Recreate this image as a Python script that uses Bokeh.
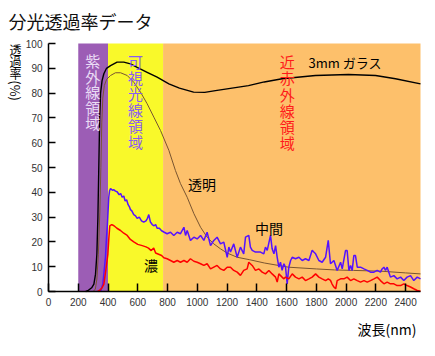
from bokeh.plotting import figure
from bokeh.models import Range1d, FixedTicker, Label
from bokeh.embed import file_html
from bokeh.resources import INLINE

JP = "Noto Sans CJK JP"

# ---- spectral bands (nm) ----
band_left = [200, 400, 770]
band_right = [400, 770, 2500]
band_colors = ["#9C5DB5", "#F9F92A", "#FDC06B"]
band_names = ["紫外線領域", "可視光線領域", "近赤外線領域"]
band_label_colors = ["#EADCF5", "#8A5CF2", "#FF1A1A"]

# ---- 3mm glass (black) ----
glass_nm = [250, 264, 290, 305, 316, 325, 332, 338, 344, 350, 360, 372, 390, 417, 461, 506,
            551, 596, 663, 730, 809, 880, 975, 1050, 1122, 1200, 1344, 1450, 1570, 1794,
            2016, 2198, 2332, 2500]
glass_pct = [0, 0.3, 1.5, 3, 7, 15, 30, 50, 70, 80, 85, 87.8, 90, 91.1, 92.5, 92.5,
             91.8, 90.4, 88.4, 86.4, 83.7, 82, 80.4, 80.3, 81, 81.7, 83, 84.5, 85.8, 87.1,
             87.5, 87.1, 85.8, 83.7]

# ---- clear (brown) ----
clear_nm = [300, 315, 325, 335, 345, 352, 358, 365, 375, 390, 417, 450, 484, 529, 573, 618,
            663, 708, 753, 809, 853, 887, 932, 977, 1022, 1066, 1111, 1156, 1201, 1268,
            1353, 1450, 1613, 1800, 1922, 2050, 2231, 2400, 2500]
clear_pct = [0, 1, 5, 15, 32, 50, 68, 78, 83, 85.5, 87.1, 88.2, 88.2, 87.1, 84.4, 80.4,
             75.7, 70.3, 64.9, 56.9, 48.8, 43.5, 38, 31.4, 25.9, 21.9, 19.2, 17.2, 15.5, 13.8,
             12.8, 11.5, 9.8, 9.1, 8.7, 8.5, 8.2, 7.5, 7.1]

# ---- medium tint (blue) ----
mid_nm = [350, 365, 372, 383, 390, 396, 405, 410, 417, 430, 440, 450, 461, 475, 485, 495,
          506, 515, 525, 535, 545, 551, 560, 573, 585, 596, 610, 625, 640, 655, 665, 674,
          685, 697, 710, 720, 730, 745, 760, 775, 797, 820, 842, 865, 887, 910, 921, 932,
          954, 977, 999, 1022, 1044, 1066, 1089, 1111, 1133, 1156, 1178, 1201, 1212, 1223,
          1245, 1268, 1290, 1312, 1324, 1346, 1357, 1369, 1391, 1425, 1447, 1458, 1470,
          1492, 1503, 1515, 1526, 1537, 1548, 1559, 1570, 1582, 1593, 1604, 1615, 1627,
          1638, 1660, 1683, 1705, 1727, 1750, 1772, 1783, 1795, 1817, 1839, 1862, 1880,
          1895, 1918, 1940, 1963, 1974, 1996, 2007, 2019, 2030, 2041, 2052, 2063, 2075,
          2097, 2120, 2142, 2164, 2187, 2209, 2231, 2242, 2254, 2265, 2276, 2287, 2298,
          2321, 2343, 2366, 2388, 2410, 2433, 2455, 2478, 2500]
mid_pct = [0, 3, 7, 14, 22, 27, 38, 40.5, 41.5, 40.8, 41, 40.5, 40.2, 39, 39.5, 38,
           38.5, 36.5, 37, 35, 34, 33, 32.5, 31, 30.5, 29.5, 30, 28.5, 28, 28.5, 29.5, 31,
           28, 27, 26.5, 27, 25.5, 25.5, 24.5, 24, 23.3, 23.9, 22.6, 23.9, 23.3, 25.9, 22.6, 24.6,
           20.6, 21.9, 21.2, 22.6, 20.6, 23.9, 18.5, 20.6, 21.9, 19.2, 19.9, 13.8, 17.9, 15.9,
           19.2, 13.8, 17.9, 15.2, 21.9, 22.6, 17.9, 16.6, 15.9, 15.9, 15.2, 17.9, 16.6,
           22.6, 17.2, 15.2, 18.5, 13.8, 9.8, 11.8, 8.5, 11.2, 9.8, 3.1, 9.8, 12.5,
           13.8, 13.2, 13.8, 12.5, 13.2, 12.5, 16.6, 15.9, 15.2, 12.5, 11.8, 13.8, 20.6,
           11.2, 12.5, 8.5, 11.8, 9.1, 16.5, 16.5, 8.5, 10.5, 8.5, 14.5, 14.5, 9.8,
           9.8, 9.1, 8.5, 7.8, 7.8, 8.5, 7.8, 9.1, 9.8, 8.5, 9.8, 7.8, 5.8,
           6.4, 5.1, 5.8, 4.4, 5.8, 6.4, 4.4, 5.8, 5.1]

# ---- dark tint (red) ----
dark_nm = [330, 345, 360, 372, 385, 399, 405, 412, 425, 440, 460, 484, 506, 529, 550, 573,
           600, 630, 655, 672, 690, 707, 720, 740, 760, 775, 797, 820, 842, 865, 887, 910,
           932, 954, 977, 999, 1022, 1044, 1066, 1089, 1111, 1133, 1156, 1178, 1201, 1223,
           1245, 1268, 1290, 1312, 1335, 1346, 1369, 1391, 1414, 1436, 1458, 1481, 1503,
           1526, 1537, 1548, 1570, 1582, 1593, 1615, 1638, 1660, 1683, 1705, 1727, 1750,
           1772, 1795, 1817, 1839, 1862, 1880, 1895, 1905, 1918, 1930, 1940, 1963, 1985,
           2007, 2030, 2052, 2075, 2097, 2120, 2142, 2164, 2187, 2209, 2231, 2254, 2276,
           2298, 2321, 2343, 2366, 2388, 2410, 2433, 2455, 2478, 2500]
dark_pct = [0, 0.5, 1.5, 3, 8.5, 15, 21, 26.5, 27, 26.5, 25.5, 24.6, 23.5, 22.6, 21, 20,
            19, 18.5, 18, 17.5, 16.5, 17.5, 15.5, 15, 14.5, 13.6, 13.2, 12.5, 11.8, 12.5, 11.8, 12.5,
            11.8, 13.2, 12.2, 11.8, 11.2, 10.5, 11.2, 9.1, 9.8, 10.5, 9.1, 8.5, 9.8, 9.8,
            8.5, 7.8, 6.5, 8.5, 9.1, 11.8, 10.5, 8.5, 9.1, 7.8, 7.1, 8.5, 7.1,
            5.8, 3.8, 7.1, 5.8, 5.1, 5.8, 5.1, 7.1, 5.8, 5.1, 5.8, 4.4, 5.1,
            5.8, 7.1, 5.8, 5.1, 4.4, 5.1, 4.5, 3.1, 1.8, 1.1, 4.4, 5.1, 5.1,
            5.8, 4.4, 5.1, 4.4, 3.8, 4.4, 3.8, 4.4, 5.1, 5.8, 4.4, 3.1, 3.8,
            3.1, 3.1, 2.4, 2.4, 3.1, 2.4, 1.8, 1.1, 0.4, 0.1]

x_ticks = list(range(0, 2401, 200))
y_ticks = list(range(0, 101, 10))

# The frame covers the whole canvas; the axes are pinned at x=0 / y=0.
NM_PER_PX = 1 / 0.1488
PCT_PER_PX = 1 / 2.48
p = figure(width=435, height=356, output_backend="svg", toolbar_location=None,
           x_range=Range1d(-48 * NM_PER_PX, 387 * NM_PER_PX),
           y_range=Range1d(-65 * PCT_PER_PX, 291 * PCT_PER_PX),
           min_border=0)
p.outline_line_color = None
p.xgrid.visible = False
p.ygrid.visible = False
p.background_fill_color = "white"
p.border_fill_color = "white"

p.quad(left=band_left, right=band_right, bottom=0, top=100, fill_color=band_colors, line_color=None)

p.line(glass_nm, glass_pct, line_color="black", line_width=1.4)
p.line(clear_nm, clear_pct, line_color="#7A5530", line_width=1.0)
p.line(mid_nm, mid_pct, line_color="#5511FF", line_width=1.5)
p.line(dark_nm, dark_pct, line_color="#FF0000", line_width=1.5)

# axes
xa, ya = p.xaxis[0], p.yaxis[0]
for ax in (xa, ya):
    ax.axis_line_color = "black"
    ax.axis_line_width = 1.5
    ax.major_tick_line_color = "black"
    ax.major_tick_line_width = 1.5
    ax.major_tick_out = 0
    ax.minor_tick_line_color = None
    ax.major_label_text_font = "Liberation Sans"
    ax.major_label_text_font_size = "10px"
    ax.major_label_text_color = "#333333"
    ax.fixed_location = 0
xa.bounds = (0, 2500)
ya.bounds = (0, 100)
xa.ticker = FixedTicker(ticks=x_ticks)
ya.ticker = FixedTicker(ticks=y_ticks)
xa.major_tick_in = 8
ya.major_tick_in = 7
xa.major_label_standoff = 6
ya.major_label_standoff = 6


def lab(x, y, text, size, color="black", align="left", baseline="middle", angle=0.0):
    p.add_layout(Label(x=x, y=y, text=text, text_font=JP, text_font_size=size,
                       text_color=color, text_align=align, text_baseline=baseline, angle=angle))


# band labels, written vertically one character per line
band_label_nm = [298, 585, 1604]
band_label_top = [93.1, 92.7, 92.7]
band_label_step = [6.25, 6.45, 6.55]
for name, bx, top, step, col in zip(band_names, band_label_nm, band_label_top,
                                    band_label_step, band_label_colors):
    for i, ch in enumerate(name):
        lab(bx, top - i * step, ch, "15px", color=col, align="center")

lab(-269, 114.5, "分光透過率データ", "18px", color="#111111", baseline="top")
lab(1747, 92.3, "3mm ガラス", "13px")
lab(1032, 43.5, "透明", "14px", align="center")
lab(1482, 25.8, "中間", "14px", align="center")
lab(689, 10.5, "濃", "14px", align="center")
lab(2077, -15.3, "波長(nm)", "14px")
# y axis title, stacked vertically
lab(-222, 97.6, "透", "12px", align="center")
lab(-222, 92.7, "過", "12px", align="center")
lab(-222, 87.9, "率", "12px", align="center")
lab(-222, 81.0, "(%)", "13px", align="center", angle=-1.5708)

open("out.html", "w").write(file_html(p, INLINE))
